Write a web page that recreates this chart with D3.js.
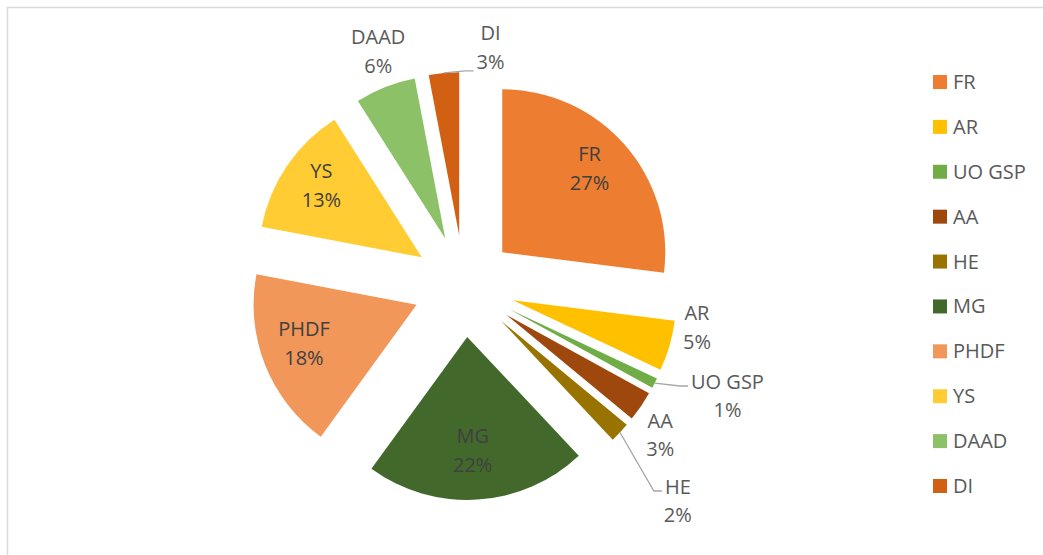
<!DOCTYPE html>
<html>
<head>
<meta charset="utf-8">
<script src="https://cdn.jsdelivr.net/npm/d3@7"></script>
<style>
  html, body { margin: 0; padding: 0; background: #fff; }
  svg { display: block; font-family: "Open Sans", sans-serif; }
</style>
</head>
<body>
<svg id="chart"></svg>
<script>
const width = 1043;
const height = 555;
const categories = ["FR", "AR", "UO GSP", "AA", "HE", "MG", "PHDF", "YS", "DAAD", "DI"];
const values = [27, 5, 1, 3, 2, 22, 18, 13, 6, 3];
const colors = ["#ED7D31", "#FFC000", "#70AD47", "#9E480E", "#997300",
  "#43682B", "#F1975A", "#FFCD33", "#8CC168", "#D26012"];
// which labels sit outside the slice, with a nudge and leader line
const outside = {
  "AR": { dx: 4, dy: -25 },
  "UO GSP": { dx: 51, dy: 2, leader: "line1" },
  "AA": { dx: -1, dy: 15 },
  "HE": { dx: 40, dy: 52, leader: "line1" },
  "DAAD": { dx: 2, dy: -13 },
  "DI": { dx: 49, dy: -1, leader: "line2" }
};

const cx = 464;
const cy = 286;
const radius = 163;
const explode = 51;
const lineGap = 28.5;
const fontSize = 20;

const svg = d3.select("#chart").attr("width", width).attr("height", height);

// chart border
svg.append("rect")
  .attr("x", 7.5).attr("y", 7.5)
  .attr("width", width + 20).attr("height", height + 20)
  .attr("fill", "none").attr("stroke", "#D9D9D9").attr("stroke-width", 1.5);

const data = categories.map((c, i) => ({ name: c, value: values[i], color: colors[i] }));
const total = d3.sum(values);
const pct = d3.format(".0%");

const pie = d3.pie().value(d => d.value).sort(null);
const arc = d3.arc().innerRadius(0).outerRadius(radius);
const arcs = pie(data);

function dir(d) {
  let a = (d.startAngle + d.endAngle) / 2;
  return [Math.sin(a), -Math.cos(a)];
}

let g = svg.append("g").attr("transform", `translate(${cx},${cy})`);

let slice = g.selectAll(".slice")
  .data(arcs)
  .enter()
  .append("g")
  .classed("slice", true)
  .attr("transform", d => {
    let [ux, uy] = dir(d);
    return `translate(${ux * explode},${uy * explode})`;
  });

slice.append("path")
  .attr("d", arc)
  .attr("fill", d => d.data.color);

// labels
slice.each(function(d) {
  let s = d3.select(this);
  let [ux, uy] = dir(d);
  let opt = outside[d.data.name];
  let lx, ly, fill;
  if (opt) {
    lx = ux * radius * 1.15 + opt.dx;
    ly = uy * radius * 1.15 + opt.dy;
    fill = "#595959";
  } else {
    lx = ux * radius * 0.73 - 2;
    ly = uy * radius * 0.73 - 5;
    fill = "#404040";
  }
  let t = s.append("text")
    .attr("text-anchor", "middle")
    .attr("font-size", fontSize)
    .attr("fill", fill);
  t.append("tspan").attr("x", lx).attr("y", ly - lineGap / 2 + 7).text(d.data.name);
  t.append("tspan").attr("x", lx).attr("y", ly + lineGap / 2 + 7).text(pct(d.data.value / total));

  if (opt && opt.leader) {
    let spans = t.selectAll("tspan").nodes();
    let span = opt.leader === "line1" ? spans[0] : spans[1];
    let bb = span.getBBox();
    let endX = bb.x - 3;
    let endY = opt.leader === "line1" ? ly - lineGap / 2 + 4 : ly + lineGap / 2 + 9;
    let sx = ux * radius;
    let sy = uy * radius;
    s.insert("polyline", "text")
      .attr("points", [[sx, sy], [endX - 8, endY], [endX, endY]].map(p => p.join(",")).join(" "))
      .attr("fill", "none")
      .attr("stroke", "#A6A6A6")
      .attr("stroke-width", 1.3);
  }
});

// legend
const legendY = d3.scalePoint().domain(categories).range([82, 486]);
let legend = svg.selectAll(".legend")
  .data(data)
  .enter()
  .append("g")
  .classed("legend", true)
  .attr("transform", d => `translate(933,${legendY(d.name)})`);

legend.append("rect")
  .attr("x", 0).attr("y", -7)
  .attr("width", 14).attr("height", 14)
  .attr("fill", d => d.color);

legend.append("text")
  .attr("x", 20).attr("y", 7)
  .attr("font-size", fontSize)
  .attr("fill", "#595959")
  .text(d => d.name);
</script>
</body>
</html>
